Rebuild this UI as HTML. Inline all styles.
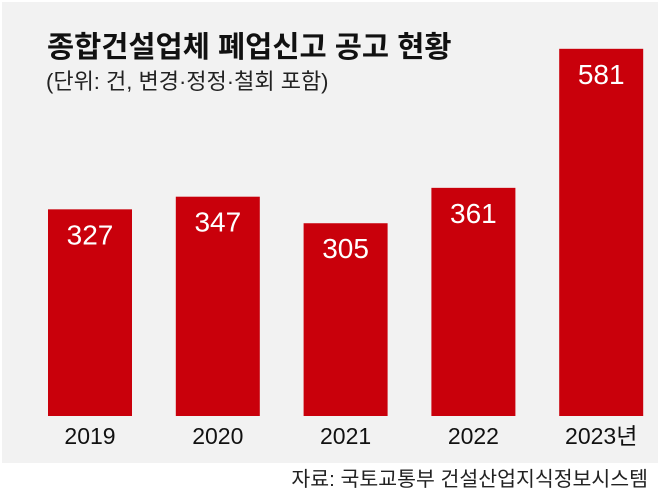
<!DOCTYPE html>
<html><head><meta charset="utf-8"><style>
html,body{margin:0;padding:0;background:#fff;width:658px;height:494px;overflow:hidden}
svg text{font-family:"Liberation Sans","Noto Sans CJK KR",sans-serif}
</style></head><body>
<svg id="chart" width="658" height="494">
<rect x="2" y="2" width="656" height="461" fill="#f2f2f2"/>
<text x="47" y="57" font-size="29.5" font-weight="bold" fill="#111">종합건설업체 폐업신고 공고 현황</text>
<text x="46" y="89" font-size="22" fill="#222">(단위: 건, 변경·정정·철회 포함)</text>
<g id="bars"></g>
<text x="648" y="486" font-size="20.5" fill="#222" text-anchor="end">자료: 국토교통부 건설산업지식정보시스템</text>
</svg>
<script>
const categories=["2019","2020","2021","2022","2023년"];
const values=[327,347,305,361,581];
const baseY=416, scale=0.632, x0=48, step=127.8, bw=84;
const yPos=v=>baseY-v*scale;
const g=document.getElementById('bars');
const NS="http://www.w3.org/2000/svg";
categories.forEach((c,i)=>{
  const x=x0+i*step, y=yPos(values[i]);
  const r=document.createElementNS(NS,'rect');
  r.setAttribute('x',x);r.setAttribute('y',y);r.setAttribute('width',bw);r.setAttribute('height',baseY-y);r.setAttribute('fill','#c9000b');
  
  
  g.appendChild(r);
  const t=document.createElementNS(NS,'text');
  t.setAttribute('x',x+bw/2);t.setAttribute('y',y+35);t.setAttribute('font-size','28');t.setAttribute('fill','#fff');t.setAttribute('text-anchor','middle');
  t.textContent=values[i];
  
  
  g.appendChild(t);
  const l=document.createElementNS(NS,'text');
  l.setAttribute('x',x+bw/2);l.setAttribute('y',444);l.setAttribute('font-size','23');l.setAttribute('fill','#111');l.setAttribute('text-anchor','middle');
  l.textContent=c;
  
  
  g.appendChild(l);
});
</script>
</body></html>
